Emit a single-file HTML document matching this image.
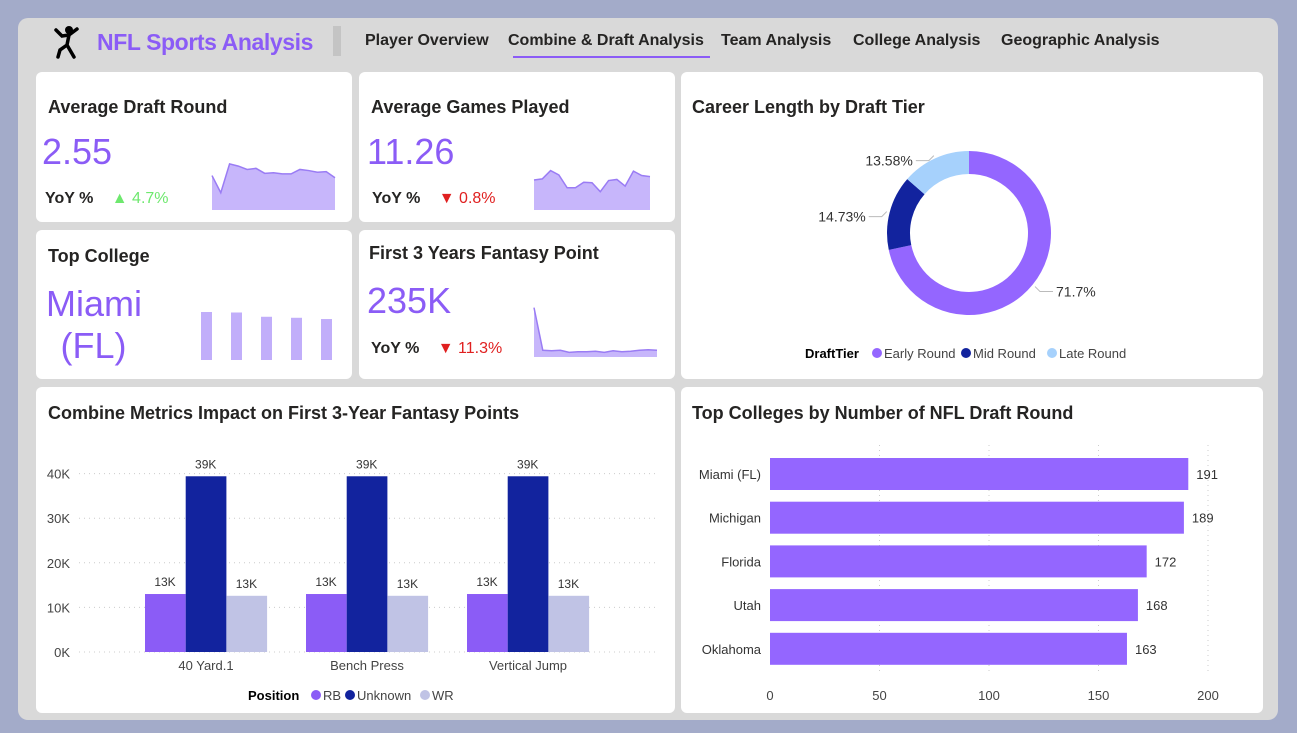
<!DOCTYPE html>
<html><head><meta charset="utf-8">
<style>
*{box-sizing:border-box;margin:0;padding:0}
body{width:1297px;height:733px;background:#a3abc9;font-family:"Liberation Sans",sans-serif;position:relative;overflow:hidden;color:#252423}
.panel{position:absolute;left:18px;top:18px;width:1260px;height:702px;background:#d9d9d9;border-radius:10px}
.card{position:absolute;background:#fff;border-radius:6px}
.t{position:absolute;font-weight:bold;font-size:18px;color:#252423}
.big{position:absolute;font-size:36px;color:#8b5cf6}
.yoy{position:absolute;font-size:16px;font-weight:bold}
.nav{position:absolute;top:32px;font-size:16px;font-weight:bold;color:#252423}
svg{position:absolute;left:0;top:0}
</style></head><body>
<div class="panel"></div>
<svg style="left:50px;top:24px" width="34" height="36" viewBox="0 0 34 36"><circle cx="19" cy="6" r="4" fill="#000"/><path d="M6 6 L12 12 L19 11 L27 5 M19 11 L17 21 L24 33 M17 21 L10 26 L8 33" stroke="#000" stroke-width="3.5" fill="none" stroke-linecap="round"/></svg>
<div style="position:absolute;left:97px;top:29px;font-size:23px;letter-spacing:-0.4px;font-weight:bold;color:#8b5cf6">NFL Sports Analysis</div>
<div style="position:absolute;left:333px;top:26px;width:8px;height:30px;background:#c4c4c4"></div>
<div class="nav" style="left:365px">Player Overview</div>
<div class="nav" style="left:508px">Combine &amp; Draft Analysis</div>
<div style="position:absolute;left:513px;top:56px;width:197px;height:2px;background:#8b5cf6"></div>
<div class="nav" style="left:721px">Team Analysis</div>
<div class="nav" style="left:853px">College Analysis</div>
<div class="nav" style="left:1001px">Geographic Analysis</div>

<div class="card" style="left:36px;top:72px;width:316px;height:150px"></div>
<div class="card" style="left:359px;top:72px;width:316px;height:150px"></div>
<div class="card" style="left:36px;top:230px;width:316px;height:149px"></div>
<div class="card" style="left:359px;top:230px;width:316px;height:149px"></div>
<div class="card" style="left:681px;top:72px;width:582px;height:307px"></div>
<div class="card" style="left:36px;top:387px;width:639px;height:326px"></div>
<div class="card" style="left:681px;top:387px;width:582px;height:326px"></div>

<div class="t" style="left:48px;top:97px">Average Draft Round</div>
<div class="big" style="left:42px;top:131px">2.55</div>
<div class="yoy" style="left:45px;top:190px">YoY % <span style="color:#6ee86e;font-weight:normal;margin-left:14px">▲ 4.7%</span></div>
<div class="t" style="left:371px;top:97px">Average Games Played</div>
<div class="big" style="left:367px;top:131px">11.26</div>
<div class="yoy" style="left:372px;top:190px">YoY % <span style="color:#e02020;font-weight:normal;margin-left:14px">▼ 0.8%</span></div>
<div class="t" style="left:48px;top:246px">Top College</div>
<div class="big" style="left:46px;top:283px;line-height:42px;text-align:center;width:95px">Miami (FL)</div>
<div class="t" style="left:369px;top:243px">First 3 Years Fantasy Point</div>
<div class="big" style="left:367px;top:280px">235K</div>
<div class="yoy" style="left:371px;top:340px">YoY % <span style="color:#e02020;font-weight:normal;margin-left:14px">▼ 11.3%</span></div>
<div class="t" style="left:692px;top:97px">Career Length by Draft Tier</div>
<div class="t" style="left:48px;top:403px">Combine Metrics Impact on First 3-Year Fantasy Points</div>
<div class="t" style="left:692px;top:403px">Top Colleges by Number of NFL Draft Round</div>

<svg id="s" width="1297" height="733" xmlns="http://www.w3.org/2000/svg"></svg>
<script>
// sparkline data
const spark1=[6.2,3.1,8.3,7.9,7.3,7.5,6.6,6.7,6.5,6.5,7.3,7.1,6.8,6.9,5.8];
const spark2=[5.4,5.6,7.1,6.3,4.0,4.0,5.0,4.9,3.3,5.3,5.5,4.3,7.0,6.2,6.0];
const spark3=[9.5,1.3,1.2,1.3,0.9,1.0,1.0,1.1,0.9,1.2,1.0,1.1,1.3,1.4,1.3];
const collegeSpark=[191,189,172,168,163];
// donut
const tiers=["Early Round","Mid Round","Late Round"];
const tierPct=[71.7,14.73,13.58];
// grouped bars
const metrics=["40 Yard.1","Bench Press","Vertical Jump"];
const rbVals=[13.0,13.0,13.0];
const unkVals=[39.4,39.4,39.4];
const wrVals=[12.6,12.6,12.6];
const yTicks=[0,10,20,30,40];
// horizontal bars
const colleges=["Miami (FL)","Michigan","Florida","Utah","Oklahoma"];
const draftCounts=[191,189,172,168,163];
const xTicks=[0,50,100,150,200];

const S=document.getElementById('s');const NS='http://www.w3.org/2000/svg';
function mk(t,a,txt){const e=document.createElementNS(NS,t);for(const k in a)e.setAttribute(k,a[k]);if(txt!=null)e.textContent=txt;S.appendChild(e);return e;}

function spark(data,x0,x1,yb,yt,vmax,name){
  const sx=i=>x0+i*(x1-x0)/(data.length-1), sy=v=>yb-(v/vmax)*(yb-yt);
  let d='M'+x0+','+yb;data.forEach((v,i)=>d+=' L'+sx(i)+','+sy(v));d+=' L'+x1+','+yb+' Z';
  const a=mk('path',{d:d,fill:'#c7b6fb'});
  
  
  let l='';data.forEach((v,i)=>l+=(i?' L':'M')+sx(i)+','+sy(v));
  const p=mk('path',{d:l,fill:'none',stroke:'#9a7cf4','stroke-width':1.5});
  
  
}
spark(spark1,212,335,210,160,9,'draft-round-sparkline');
spark(spark2,534,650,210,160,9,'games-sparkline');
spark(spark3,534,657,357,305,10,'fantasy-sparkline');
collegeSpark.forEach((v,i)=>{
  const h=(v/191)*48;
  const r=mk('rect',{x:201+i*30,y:360-h,width:11,height:h,fill:'#c1aefa'});
  
  
});

// donut
const cx=969,cy=233,R=82,r=59,cols=['#9466ff','#12239e','#a6d1fc'];
let ang=0;const tot=tierPct.reduce((a,b)=>a+b,0);
tierPct.forEach((v,i)=>{
  const a0=ang,a1=ang+v/tot*2*Math.PI;ang=a1;
  const P=(rad,a)=>[cx+rad*Math.sin(a),cy-rad*Math.cos(a)];
  const lg=(a1-a0)>Math.PI?1:0;
  const [x1,y1]=P(R,a0),[x2,y2]=P(R,a1),[x3,y3]=P(r,a1),[x4,y4]=P(r,a0);
  const p=mk('path',{d:`M${x1},${y1} A${R},${R} 0 ${lg} 1 ${x2},${y2} L${x3},${y3} A${r},${r} 0 ${lg} 0 ${x4},${y4} Z`,fill:cols[i]});
  
  
  const am=(a0+a1)/2;const [lx,ly]=P(R+3,am);const right=Math.sin(am)>0;
  const ex=right?lx+18:lx-18;
  mk('polyline',{points:`${lx},${ly} ${lx+(right?5:-5)},${ly+5} ${ex},${ly+5}`,fill:'none',stroke:'#bbb'});
  const tx=mk('text',{x:right?ex+3:ex-3,y:ly+10,'font-size':14,'text-anchor':right?'start':'end',fill:'#333'},v+'%');
  
  
});
// donut legend
const lt=mk('text',{x:805,y:358,'font-size':13,'font-weight':'bold',fill:'#000'},'DraftTier');


const lgPos=[877,966,1052];
tiers.forEach((t,i)=>{
  mk('circle',{cx:lgPos[i],cy:353,r:5,fill:cols[i]});
  const e=mk('text',{x:lgPos[i]+7,y:358,'font-size':13,fill:'#444'},t);
  
  
});

// grouped bars
const y0=652,pxK=4.46,X0=79,X1=655;
const yS=v=>y0-v*pxK;
yTicks.forEach(t=>{
  mk('line',{x1:X0,x2:X1,y1:yS(t),y2:yS(t),stroke:'#ccc','stroke-dasharray':'1,4'});
  const e=mk('text',{x:70,y:yS(t)+5,'font-size':13,'text-anchor':'end',fill:'#444'},t+'K');
  
  
});
const bcols=['#8b5cf6','#12239e','#c0c3e5'],series=[rbVals,unkVals,wrVals];
metrics.forEach((m,g)=>{
  const gx=145+g*161;
  series.forEach((s,k)=>{
    const b=mk('rect',{x:gx+k*40.7,y:yS(s[g]),width:40.7,height:s[g]*pxK,fill:bcols[k]});
    
    
    mk('text',{x:gx+k*40.7+20,y:yS(s[g])-8,'font-size':12,'text-anchor':'middle',fill:'#333'},Math.round(s[g])+'K');
  });
  const e=mk('text',{x:gx+61,y:670,'font-size':13,'text-anchor':'middle',fill:'#444'},m);
  
  
});
const pt=mk('text',{x:248,y:700,'font-size':13,'font-weight':'bold',fill:'#000'},'Position');


const lpos=[316,350,425],lnames=['RB','Unknown','WR'];
lnames.forEach((n,i)=>{
  mk('circle',{cx:lpos[i],cy:695,r:5,fill:bcols[i]});
  const e=mk('text',{x:lpos[i]+7,y:700,'font-size':13,fill:'#444'},n);
  
  
});

// horizontal bars
const hx0=770,pxU=2.19;const hx=v=>hx0+v*pxU;
xTicks.forEach(t=>{
  if(t>0)mk('line',{x1:hx(t),x2:hx(t),y1:445,y2:675,stroke:'#ccc','stroke-dasharray':'1,4'});
  const e=mk('text',{x:hx(t),y:700,'font-size':13,'text-anchor':'middle',fill:'#444'},t);
  
  
});
colleges.forEach((c,i)=>{
  const y=458+i*43.7;
  const b=mk('rect',{x:hx0,y:y,width:draftCounts[i]*pxU,height:32,fill:'#9466ff'});
  
  
  mk('text',{x:hx(draftCounts[i])+8,y:y+21,'font-size':13,fill:'#333'},draftCounts[i]);
  const e=mk('text',{x:761,y:y+21,'font-size':13,'text-anchor':'end',fill:'#333'},c);
  
  
});
</script>
</body></html>
